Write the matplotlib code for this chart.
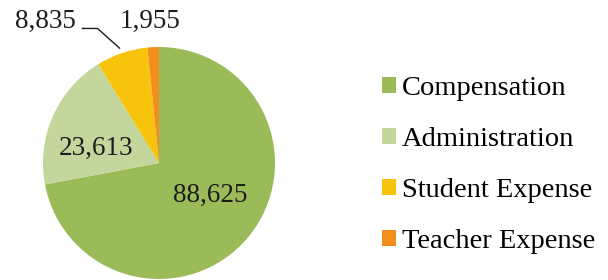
import matplotlib
matplotlib.use("Agg")
import matplotlib.pyplot as plt

# expense categories and totals
categories = ["Compensation", "Administration", "Student Expense", "Teacher Expense"]
values = [88625, 23613, 8835, 1955]
colors = ["#9BBB59", "#C3D69B", "#F7C30C", "#F28E1C"]

plt.rcParams["font.family"] = ["Liberation Serif", "DejaVu Serif"]

fig = plt.figure(figsize=(6.08, 2.80), dpi=100)
ax = fig.add_axes([43 / 608, 1 / 280, 232 / 608, 232 / 280])

wedges, _ = ax.pie(
    values,
    colors=colors,
    startangle=90,
    counterclock=False,
    radius=1.0,
    wedgeprops=dict(linewidth=0),
)
ax.set_xlim(-1, 1)
ax.set_ylim(-1, 1)
ax.set_aspect("equal")
ax.axis("off")

fs = 19.5
txt = dict(fontsize=fs, color="#1c1c1c", ha="center", va="center", clip_on=False)
labels = [f"{v:,}" for v in values]
ax.text(0.44, -0.28, labels[0], **txt)
ax.text(-0.54, 0.13, labels[1], **txt)
ax.text(-0.98, 1.22, labels[2], **txt)
ax.text(-0.08, 1.22, labels[3], **txt)

# leader line for the student expense label
ax.plot([-0.66, -0.53, -0.34], [1.16, 1.16, 0.99],
        color="#1c1c1c", linewidth=1.0, clip_on=False)

leg_fs = 20.5
fig.legend(
    wedges, categories,
    loc="center left",
    bbox_to_anchor=(382 / 608, 0.41),
    frameon=False,
    fontsize=leg_fs,
    handlelength=0.5,
    handleheight=0.5,
    handletextpad=0.2,
    labelspacing=0.92,
    borderaxespad=0,
    borderpad=0,
)

fig.savefig("out.png", dpi=100)
